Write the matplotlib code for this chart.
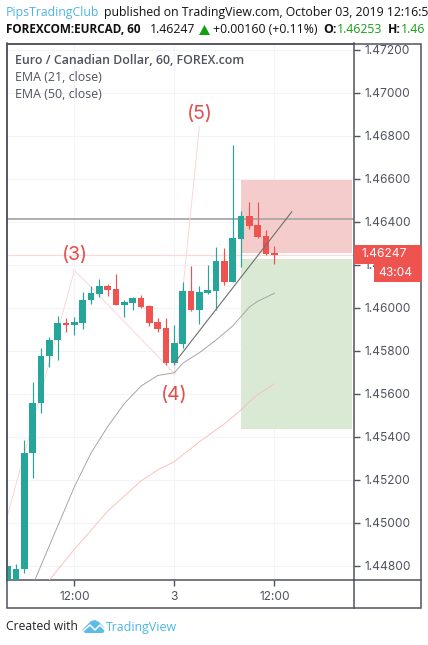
import matplotlib
matplotlib.use("Agg")
import matplotlib.pyplot as plt
from matplotlib.patches import Rectangle, Polygon

bar_index = list(range(-8, 25))
opens = [1.44720,1.44720,1.44785,1.45323,1.45556,1.45778,1.45848,1.45929,1.45921,1.45930,1.46036,1.46066,1.46101,1.46087,1.46014,1.46023,1.46045,1.46008,1.45934,1.45906,1.45743,1.45831,1.46078,1.45989,1.46068,1.46078,1.46217,1.46120,1.46321,1.46426,1.46384,1.46333,1.46253]
highs = [1.44800,1.44809,1.45385,1.45655,1.45813,1.45863,1.45962,1.45951,1.45956,1.46073,1.46101,1.46134,1.46110,1.46158,1.46035,1.46051,1.46058,1.46013,1.45954,1.45952,1.45920,1.46120,1.46194,1.46102,1.46199,1.46282,1.46278,1.46756,1.46450,1.46491,1.46491,1.46361,1.46287]
lows = [1.44700,1.44700,1.44766,1.45207,1.45510,1.45723,1.45757,1.45889,1.45875,1.45903,1.46017,1.46049,1.46055,1.46014,1.45957,1.45989,1.45999,1.45915,1.45887,1.45734,1.45734,1.45814,1.45985,1.45924,1.46066,1.45989,1.46106,1.46120,1.46191,1.46366,1.46324,1.46244,1.46203]
closes = [1.44800,1.44785,1.45326,1.45556,1.45778,1.45848,1.45929,1.45921,1.45934,1.46036,1.46067,1.46101,1.46084,1.46014,1.46025,1.46045,1.46003,1.45930,1.45901,1.45743,1.45836,1.46078,1.45989,1.46073,1.46082,1.46217,1.46120,1.46324,1.46426,1.46380,1.46329,1.46250,1.46247]

ema21_idx = [-5,0,2,4,6,8,10,12,13,15,17,19,21,22,24]
ema21_val = [1.44712,1.45168,1.45325,1.45448,1.45555,1.45636,1.45685,1.45698,1.45742,1.45791,1.45850,1.45915,1.46003,1.46030,1.46067]
ema50_idx = [-3,0,4,8,10,12,15,18,20,21,22,24]
ema50_val = [1.44735,1.44877,1.45055,1.45195,1.45246,1.45285,1.45377,1.45460,1.45525,1.45564,1.45597,1.45646]
wave_idx = [-8.05,0,12,15]
wave_val = [1.45032,1.46174,1.45695,1.46840]
wave_labels = ["(3)","(4)","(5)"]
wave_label_idx = [0,12,15]
wave_label_val = [1.46243,1.45594,1.46900]
trend_idx = [12,26.1]
trend_val = [1.45743,1.46446]
box_start = 20
stop_box = [1.46256,1.46594]
target_box = [1.45438,1.46226]
hline_val = 1.46412
last_price = 1.46247
yticks = [1.448,1.450,1.452,1.454,1.456,1.458,1.460,1.462,1.464,1.466,1.468,1.470,1.472]
xtick_idx = [0,12,24]
xtick_labels = ["12:00","3","12:00"]

W, H = 428, 645
UP, DOWN = "#26A69A", "#EF5350"
FRAME = "#50535E"
GRID = "#F2F4FA"
SANS = ["Open Sans", "DejaVu Sans"]
plt.rcParams["font.family"] = SANS

fig = plt.figure(figsize=(W/100, H/100), dpi=100)
L, R, T, B = 6.5, 353.5, 43.5, 580
ax = fig.add_axes([L/W, 1-B/H, (R-L)/W, (B-T)/H])
ax.set_xlim((L-74.4)/8.33, (R-74.4)/8.33)
ax.set_ylim(1.447348, 1.472279)
ax.set_yticks(yticks)
ax.set_yticklabels([f"{v:.5f}" for v in yticks])
ax.yaxis.tick_right()
ax.set_xticks(xtick_idx)
ax.set_xticklabels(xtick_labels)
ax.grid(True, color=GRID, lw=0.8)
ax.set_axisbelow(True)
tickfont = "Inter"
ax.tick_params(axis="y", length=4, width=1, color=FRAME, labelcolor=FRAME, labelsize=8.6, pad=4)
ax.tick_params(axis="x", length=4, width=1, color=FRAME, labelcolor=FRAME, labelsize=8.6, pad=4)
for lab in ax.get_xticklabels() + ax.get_yticklabels():
    lab.set_fontfamily(tickfont)
for s in ax.spines.values():
    s.set_color(FRAME)
    s.set_linewidth(1.1)

ax.add_patch(Rectangle((box_start, stop_box[0]), 13.35, stop_box[1]-stop_box[0], fc="#F4CCCC", ec="none", zorder=1.5))
ax.add_patch(Rectangle((box_start, target_box[0]), 13.35, target_box[1]-target_box[0], fc="#D9E9D3", ec="none", zorder=1.5))
ax.axhline(hline_val, color="#A8A8A8", lw=1.3, zorder=1.6)
ax.axhline(last_price, color="#FBD9D8", lw=0.9, zorder=1.6)
ax.plot(wave_idx, wave_val, color="#F9D8D6", lw=0.7, zorder=1.7,
        marker="o", ms=2, mfc="white", mew=0.4, markevery=[1, 2])

for i, o, h, l, c in zip(bar_index, opens, highs, lows, closes):
    col = UP if c >= o else DOWN
    ax.vlines(i, l, h, color=col, lw=0.85, zorder=3)
    ax.bar(i, abs(c-o), bottom=min(o, c), width=0.8, color=col, lw=0, zorder=3.1)

ax.plot(ema21_idx, ema21_val, color="#A0A0A0", lw=0.65, zorder=4)
ax.plot(ema50_idx, ema50_val, color="#F9BDB8", lw=0.65, zorder=4)
ax.plot(trend_idx, trend_val, color="#6E6E6E", lw=0.8, zorder=4)
for txt, x, y in zip(wave_labels, wave_label_idx, wave_label_val):
    ax.text(x, y, txt, color="#E0504E", fontsize=14, ha="center", va="center", zorder=5, family="Inter")

def px(x, y):
    return x/W, 1-y/H

def t(x, y, s, **k):
    k.setdefault("va", "center")
    k.setdefault("ha", "left")
    fig.text(*px(x, y), s, **k)

# legend
t(15, 60.5, "Euro / Canadian Dollar, 60, FOREX.com", color=FRAME, fontsize=8.9, fontweight=600)
t(15, 77.5, "EMA (21, close)", color=FRAME, fontsize=8.9)
t(15, 94.5, "EMA (50, close)", color=FRAME, fontsize=8.9)

# outer frame
fig.add_artist(Rectangle(px(L, 608), (421-L)/W, (608-T)/H, fc="none", ec=FRAME, lw=1.1, transform=fig.transFigure))
fig.add_artist(plt.Line2D([R/W, R/W], [1-B/H, 1-608/H], color=FRAME, lw=1.1))
fig.add_artist(plt.Line2D([R/W, 421/W], [1-B/H, 1-B/H], color=FRAME, lw=1.1))

# price tags
fig.add_artist(Rectangle(px(353.5, 263.5), (422-353.5)/W, 18.5/H, fc="#EF5350", ec="none", transform=fig.transFigure))
fig.add_artist(Rectangle(px(374, 282), (422-374)/W, 17.5/H, fc="#EF5350", ec="none", transform=fig.transFigure))
t(362, 254.5, f"{last_price:.5f}", color="white", fontsize=8.6, family="Inter")
t(378, 273.5, "43:04", color="white", fontsize=8.6, family="Inter")

# header
t(6, 12.5, "PipsTradingClub", color="#4DB6E6", fontsize=8.8)
t(104, 12.5, "published on TradingView.com, October 03, 2019 12:16:58 UTC", color="#111111", fontsize=8.8)
t(6, 29.5, "FOREXCOM:EURCAD, 60", color="#111111", fontsize=8.5, fontweight="bold")
t(150, 29.5, "1.46247", color="#111111", fontsize=8.8)
fig.add_artist(Polygon([px(199, 35), px(210, 35), px(204.5, 25)], closed=True, fc="#12A012", ec="none", transform=fig.transFigure))
t(213, 29.5, "+0.00160 (+0.11%)", color="#111111", fontsize=8.8)
t(323, 29.5, "O:", color="#111111", fontsize=8.8, fontweight="bold")
t(337, 29.5, "1.46253", color="#14A014", fontsize=8.8)
t(388, 29.5, "H:", color="#111111", fontsize=8.8, fontweight="bold")
t(401, 29.5, "1.46", color="#14A014", fontsize=8.8)

# footer
t(6, 627, "Created with", color="#222222", fontsize=8.7)
t(106, 627, "TradingView", color="#4DB6E6", fontsize=8.9)
cloud = [(82, 630), (87, 625), (91, 621), (95, 620), (99, 622), (103, 626), (105, 630), (103, 633), (85, 633)]
fig.add_artist(Polygon([px(*p) for p in cloud], closed=True, fc="#5CBBE8", ec="none", transform=fig.transFigure))
wave = [(83, 631), (90, 625), (95, 630), (100, 625), (105, 630)]
fig.add_artist(plt.Line2D([p[0]/W for p in wave], [1-p[1]/H for p in wave], color="white", lw=1.1))

fig.savefig("out.png", dpi=100)
